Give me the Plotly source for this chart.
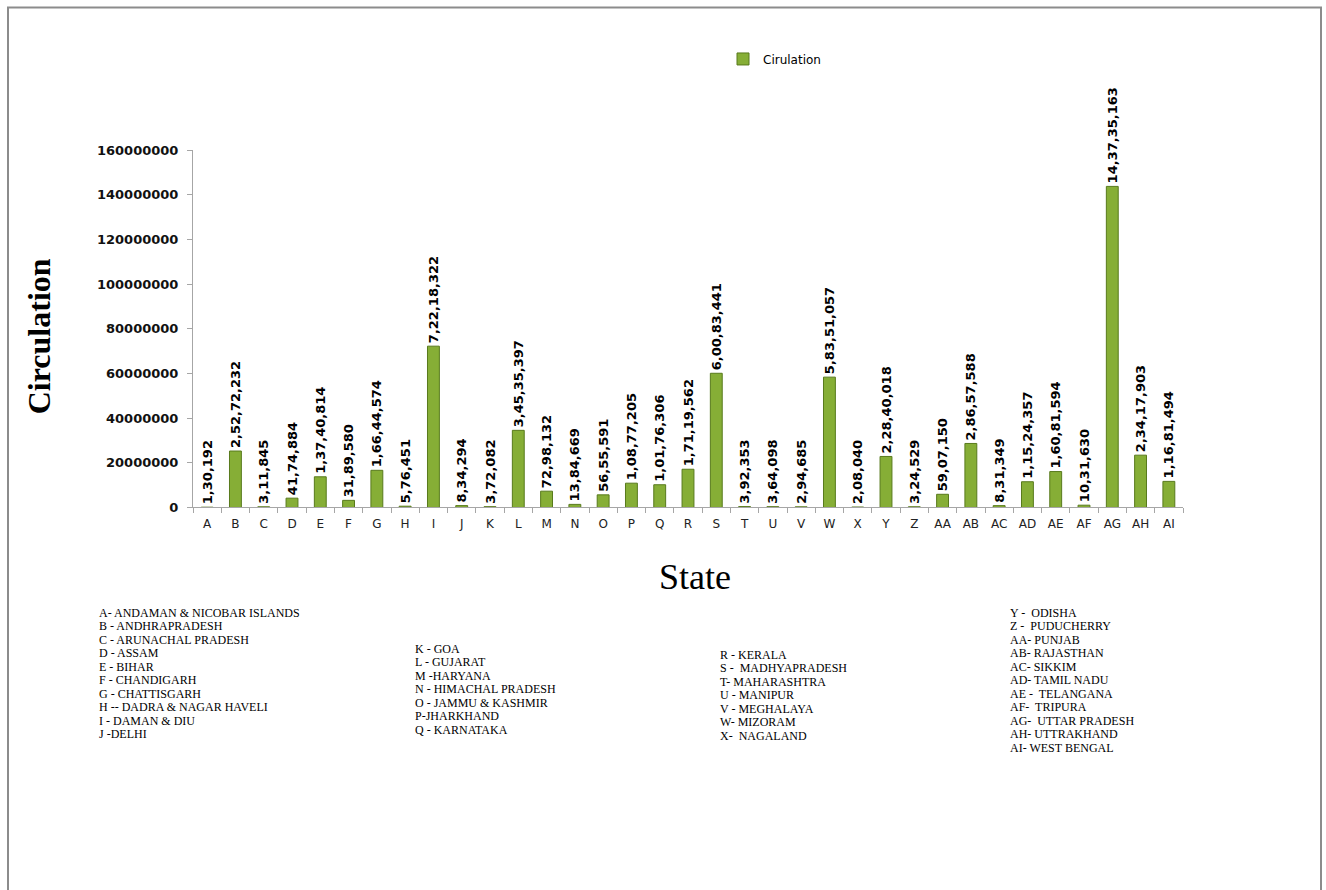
import plotly.graph_objects as go

states = ["A", "B", "C", "D", "E", "F", "G", "H", "I", "J", "K", "L", "M", "N", "O", "P", "Q",
          "R", "S", "T", "U", "V", "W", "X", "Y", "Z", "AA", "AB", "AC", "AD", "AE", "AF", "AG", "AH", "AI"]
circulation = [130192, 25272232, 311845, 4174884, 13740814, 3189580, 16644574, 576451, 72218322,
               834294, 372082, 34535397, 7298132, 1384669, 5655591, 10877205, 10176306,
               17119562, 60083441, 392353, 364098, 294685, 58351057, 208040, 22840018, 324529,
               5907150, 28657588, 831349, 11524357, 16081594, 1031630, 143735163, 23417903, 11681494]
y_ticks = [0, 20000000, 40000000, 60000000, 80000000, 100000000, 120000000, 140000000, 160000000]

notes_col1 = ["A- ANDAMAN & NICOBAR ISLANDS", "B - ANDHRAPRADESH", "C - ARUNACHAL PRADESH",
              "D - ASSAM", "E - BIHAR", "F - CHANDIGARH", "G - CHATTISGARH",
              "H -- DADRA & NAGAR HAVELI", "I - DAMAN & DIU", "J -DELHI"]
notes_col2 = ["K - GOA", "L - GUJARAT", "M -HARYANA", "N - HIMACHAL PRADESH",
              "O - JAMMU & KASHMIR", "P-JHARKHAND", "Q - KARNATAKA"]
notes_col3 = ["R - KERALA", "S -  MADHYAPRADESH", "T- MAHARASHTRA", "U - MANIPUR",
              "V - MEGHALAYA", "W- MIZORAM", "X-  NAGALAND"]
notes_col4 = ["Y -  ODISHA", "Z -  PUDUCHERRY", "AA- PUNJAB", "AB- RAJASTHAN", "AC- SIKKIM",
              "AD- TAMIL NADU", "AE -  TELANGANA", "AF-  TRIPURA", "AG-  UTTAR PRADESH",
              "AH- UTTRAKHAND", "AI- WEST BENGAL"]


def indian(n):
    s = str(n)
    if len(s) <= 3:
        return s
    last3 = s[-3:]
    rest = s[:-3]
    groups = []
    while len(rest) > 2:
        groups.insert(0, rest[-2:])
        rest = rest[:-2]
    if rest:
        groups.insert(0, rest)
    return ",".join(groups) + "," + last3


W, H = 1326, 890
VS, VO = 0.982, 7.1   # observed vertical mapping of the capture


def px_x(x):
    return x / W


def px_y(y):
    yi = (y - VO) / VS
    return 1 - max(yi, 0.5) / H


fig = go.Figure()
fig.add_trace(go.Bar(
    x=states, y=circulation, name="Cirulation",
    marker=dict(color="#86ae36", line=dict(color="#587a1c", width=1)),
    text=[indian(v) for v in circulation],
    textposition="outside", textangle=-90, constraintext="none", cliponaxis=False,
    textfont=dict(family="DejaVu Sans", size=13, color="#000000", weight="bold"),
))

x0p, x1p = 193, 1183
ytop, ybot = 150, 507
fig.update_layout(
    width=W, height=H,
    margin=dict(l=0, r=0, t=0, b=0),
    paper_bgcolor="white", plot_bgcolor="white",
    bargap=0.58,
    showlegend=True,
    legend=dict(x=px_x(748 - 25), y=px_y(59), xanchor="left", yanchor="middle",
                font=dict(family="DejaVu Sans", size=12, color="#000000"),
                bgcolor="rgba(0,0,0,0)", itemwidth=30),
    xaxis=dict(domain=[px_x(x0p), px_x(x1p)], showline=True, linecolor="#a6a6a6", linewidth=1,
               ticks="outside", tickson="boundaries", ticklen=5, tickcolor="#a6a6a6",
               ticklabelstandoff=5,
               tickfont=dict(family="DejaVu Sans", size=12, color="#222222"),
               showgrid=False),
    yaxis=dict(domain=[px_y(ybot), px_y(ytop)], range=[0, 160000000],
               tickvals=y_ticks, ticktext=[str(v) for v in y_ticks],
               showline=True, linecolor="#a6a6a6", linewidth=1,
               ticks="outside", ticklen=5, tickcolor="#a6a6a6", ticklabelstandoff=6,
               tickfont=dict(family="DejaVu Sans", size=13, color="#111111", weight="bold"),
               showgrid=False, zeroline=False),
)

# frame (top/left/right edges; bottom runs off the page)
fig.add_shape(type="rect", xref="paper", yref="paper",
              x0=px_x(8), x1=px_x(1321), y0=-0.05, y1=px_y(6),
              line=dict(color="#8c8c8c", width=2), fillcolor="rgba(0,0,0,0)")

# axis titles
fig.add_annotation(text="<b>Circulation</b>", xref="paper", yref="paper",
                   x=px_x(19), y=px_y(336), textangle=-90, showarrow=False,
                   font=dict(family="Liberation Serif", size=32, color="#000000"))
fig.add_annotation(text="State", xref="paper", yref="paper",
                   x=px_x(695), y=px_y(576), showarrow=False,
                   font=dict(family="Liberation Serif", size=36, color="#000000"))


def add_notes(lines, x_px, y_px, step):
    for i, t in enumerate(lines):
        fig.add_annotation(text=t, xref="paper", yref="paper",
                           x=px_x(x_px), y=px_y(y_px + i * step),
                           xanchor="left", yanchor="middle", showarrow=False,
                           font=dict(family="Liberation Serif", size=12, color="#000000"))


add_notes(notes_col1, 97, 612, 13.5)
add_notes(notes_col2, 413, 648, 13.5)
add_notes(notes_col3, 718, 654, 13.5)
add_notes(notes_col4, 1008, 612, 13.5)

fig.write_html("out.html", config={"displayModeBar": False},
               post_script="document.body.style.margin='0';document.body.style.overflow='hidden';")
